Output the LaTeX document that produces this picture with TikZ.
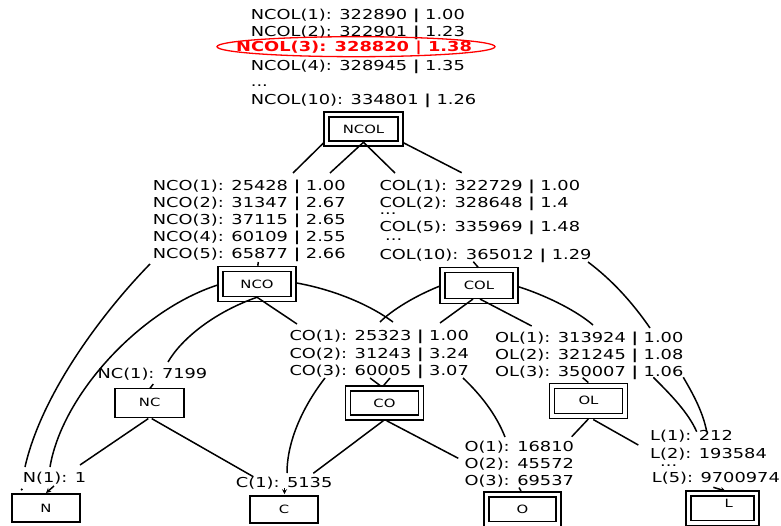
\documentclass[tikz,border=0pt]{standalone}
\usepackage{fontspec}
\newfontfamily\gv[FakeStretch=1.3]{DejaVu Sans}
\usetikzlibrary{arrows.meta,calc}
\newcommand\vb{\textbf{|}}
\begin{document}
\begin{tikzpicture}[x=1pt,y=-1pt,
  lbl/.style={font=\gv\fontsize{13.7}{17}\selectfont, inner sep=0pt, anchor=base west},
  redlbl/.style={lbl, font=\gv\bfseries\fontsize{13.7}{17}\selectfont, text=red},
  btext/.style={font=\gv\fontsize{11.4}{13}\selectfont, inner sep=0pt},
  dbox/.style={btext, draw, line width=1.5pt, double, double distance=3.5pt},
  sbox/.style={btext, draw, line width=1.6pt},
  edge/.style={line width=1.5pt},
  arr/.style={line width=1.5pt, -{Stealth[length=5pt,width=5pt]}}]
\useasboundingbox (0,0) rectangle (781,526);
\fill[white] (0,0) rectangle (781,526);

% ---------- boxes ----------
\node[dbox, minimum width=74pt, minimum height=29pt] (ncol) at (363.5,129) {NCOL};
\node[dbox, minimum width=73pt, minimum height=30pt] (nco) at (257,284) {NCO};
\node[dbox, minimum width=73pt, minimum height=31pt] (col) at (479,285.3) {COL};
\node[dbox, minimum width=72.6pt, minimum height=29pt] (co) at (384.5,403) {CO};
\node[dbox, minimum width=73.4pt, minimum height=30pt] (ol) at (588.5,400.8) {OL};
\node[dbox, minimum width=72pt, minimum height=29.5pt] (o) at (522.5,509) {O};
\node[dbox, minimum width=68pt, minimum height=29.5pt] (l) at (722.5,508) {};
\node[btext] (ltext) at (728.8,503) {L};
\node[sbox, minimum width=69pt, minimum height=29pt] (nc) at (149.7,402.8) {NC};
\node[sbox, minimum width=68pt, minimum height=27.7pt] (n) at (45.9,507.9) {N};
\node[sbox, minimum width=68pt, minimum height=27pt] (c) at (284,509.5) {C};

% ---------- labels ----------
\node[lbl] (ncol1) at (250.7,20) {NCOL(1): 322890 \vb{} 1.00};
\node[lbl] (ncol2) at (250.7,36.7) {NCOL(2): 322901 \vb{} 1.23};
\node[redlbl] (ncol3) at (236,51.7) {NCOL(3): 328820 \vb{} 1.38};
\draw[red, line width=1.3pt] (356,46.7) ellipse [x radius=139, y radius=10];
\node[lbl] (ncol4) at (250.7,71) {NCOL(4): 328945 \vb{} 1.35};
\node[lbl] (ncoldots) at (250.7,87) {...};
\node[lbl] (ncol10) at (250.7,104.3) {NCOL(10): 334801 \vb{} 1.26};

\node[lbl] (nco1) at (152.7,190.7) {NCO(1): 25428 \vb{} 1.00};
\node[lbl] (nco2) at (152.7,207.5) {NCO(2): 31347 \vb{} 2.67};
\node[lbl] (nco3) at (152.7,224.5) {NCO(3): 37115 \vb{} 2.65};
\node[lbl] (nco4) at (152.7,241.3) {NCO(4): 60109 \vb{} 2.55};
\node[lbl] (nco5) at (152.7,258.3) {NCO(5): 65877 \vb{} 2.66};

\node[lbl] (col1) at (379.3,190.7) {COL(1): 322729 \vb{} 1.00};
\node[lbl] (col2) at (379.3,207.3) {COL(2): 328648 \vb{} 1.4};
\node[lbl] (coldots1) at (379.3,215) {...};
\node[lbl] (col5) at (379.3,231.7) {COL(5): 335969 \vb{} 1.48};
\node[lbl] (coldots2) at (385,240.7) {...};
\node[lbl] (col10) at (379.3,259.3) {COL(10): 365012 \vb{} 1.29};

\node[lbl] (nc1) at (97.3,378.3) {NC(1): 7199};

\node[lbl] (co1) at (289.3,341) {CO(1): 25323 \vb{} 1.00};
\node[lbl] (co2) at (289.3,358.3) {CO(2): 31243 \vb{} 3.24};
\node[lbl] (co3) at (289.3,375) {CO(3): 60005 \vb{} 3.07};

\node[lbl] (ol1) at (495,342.3) {OL(1): 313924 \vb{} 1.00};
\node[lbl] (ol2) at (495,359) {OL(2): 321245 \vb{} 1.08};
\node[lbl] (ol3) at (495,376.7) {OL(3): 350007 \vb{} 1.06};

\node[lbl] (o1) at (464.3,451.7) {O(1): 16810};
\node[lbl] (o2) at (464.3,468.5) {O(2): 45572};
\node[lbl] (o3) at (464.3,485.7) {O(3): 69537};

\node[lbl] (l1) at (650,440) {L(1): 212};
\node[lbl] (l2) at (650,458.3) {L(2): 193584};
\node[lbl] (ldots) at (660,466.7) {...};
\node[lbl] (l5) at (651.7,482.7) {L(5): 9700974};

\node[lbl] (n1) at (22.7,482.7) {N(1): 1};
\node[lbl] (c1) at (235.7,487) {C(1): 5135};

% ---------- connector ends ----------
\coordinate (e1) at (293,173);
\coordinate (e2) at (330,173);
\coordinate (e3) at (395,173);
\coordinate (e4) at (461.7,172.7);
\coordinate (e5) at (258.3,262);
\coordinate (e6a) at (150,264);
\coordinate (e6b) at (25,467);
\coordinate (e7) at (50,467);
\coordinate (e7a) at (54,486);
\coordinate (e7b) at (46,493);
\coordinate (e8) at (168,362);
\coordinate (e9) at (153.3,384);
\coordinate (e10) at (297,324);
\coordinate (e11) at (393,322);
\coordinate (e12) at (380,322);
\coordinate (e13) at (440,323);
\coordinate (e14) at (531.7,326);
\coordinate (e15) at (593,325);
\coordinate (e16a) at (588,262);
\coordinate (e16b) at (650,328);
\coordinate (e17) at (473.3,261.7);
\coordinate (e18a) at (370,378);
\coordinate (e18b) at (390,378);
\coordinate (e19a) at (325,378);
\coordinate (e19b) at (287,473);
\coordinate (e19c) at (284.5,488);
\coordinate (e20a) at (463,378);
\coordinate (e20b) at (505,437);
\coordinate (e21) at (313.3,473.3);
\coordinate (e22) at (458.3,458.3);
\coordinate (e23) at (80,465);
\coordinate (e24) at (253.3,476.7);
\coordinate (e25) at (582.7,377.7);
\coordinate (e26a) at (653.3,377.3);
\coordinate (e26b) at (696.7,431.7);
\coordinate (e27a) at (683.3,377.3);
\coordinate (e27b) at (706.7,431.7);
\coordinate (e28) at (571.7,436.7);
\coordinate (e29) at (638.3,445);
\coordinate (e30) at (713.3,487.3);
\coordinate (e31) at (519,487.5);
\coordinate (e32) at (21.7,489.5);

% ---------- connectors ----------
\draw[edge] ($(ncol.south west)+(-1.5,-2)$) -- (e1);
\draw[edge] ($(ncol.south)+(0,-2)$) -- (e2);
\draw[edge] ($(ncol.south)+(0,-2)$) -- (e3);
\draw[edge] ($(ncol.south east)+(1.2,-2)$) -- (e4);

\draw[edge] (e5) -- ($(nco.north)+(0.8,-2.5)$);
\draw[edge] (e6a) .. controls (105,310) and (42,392) .. (e6b);
\draw[edge] ($(nco.west)+(-2,1)$) .. controls (140,310) and (62,395) .. (e7);
\draw[arr] (e7a) -- (e7b);
\draw[fill] (e32) circle [radius=0.9];
\draw[edge] ($(nco.south)+(0,-2.5)$) .. controls (215,312) and (182,338) .. (e8);
\draw[edge] (e9) -- ($(nc.north)+(0,1.2)$);
\draw[edge] ($(nco.south)+(0,-2.5)$) -- (e10);
\draw[edge] ($(nco.east)+(2.5,-1)$) .. controls (335,290) and (370,305) .. (e11);

\draw[edge] ($(col.west)+(-2.5,1)$) .. controls (415,296) and (392,310) .. (e12);
\draw[edge] ($(col.south)+(-6,-2.5)$) -- (e13);
\draw[edge] ($(col.south)+(1,-2.5)$) -- (e14);
\draw[edge] ($(col.east)+(2.5,1.5)$) .. controls (550,297) and (578,312) .. (e15);
\draw[edge] (e16a) .. controls (612,280) and (632,302) .. (e16b);
\draw[edge] (e17) -- ($(col.north)+(-0.7,-1.5)$);

\draw[edge] (e18a) -- ($(co.north)+(-3.5,-1.5)$);
\draw[edge] (e18b) -- ($(co.north)+(-1.5,-1.5)$);
\draw[edge] (e19a) .. controls (304,405) and (287,440) .. (e19b);
\draw[arr] (e19c) -- ($(c.north)+(0.5,-1)$);
\draw[edge] (e20a) .. controls (480,394) and (496,414) .. (e20b);
\draw[edge] ($(co.south)+(-1.2,2.5)$) -- (e21);
\draw[edge] ($(co.south)+(2.2,2.5)$) -- (e22);

\draw[edge] ($(nc.south)+(-1.4,0.5)$) -- (e23);
\draw[edge] ($(nc.south)+(2,0.5)$) -- (e24);

\draw[edge] (e25) -- ($(ol.north)+(-0.2,-2.5)$);
\draw[edge] (e26a) .. controls (670,394) and (688,412) .. (e26b);
\draw[edge] (e27a) .. controls (693,394) and (703,412) .. (e27b);
\draw[edge] ($(ol.south)+(-0.2,2.5)$) -- (e28);
\draw[edge] ($(ol.south)+(4.8,3)$) -- (e29);

\draw[arr] (e30) -- ($(l.north)+(3,-1.5)$);
\draw[edge] (e31) -- ($(o.north)+(-1.5,-2.5)$);
\end{tikzpicture}
\end{document}
